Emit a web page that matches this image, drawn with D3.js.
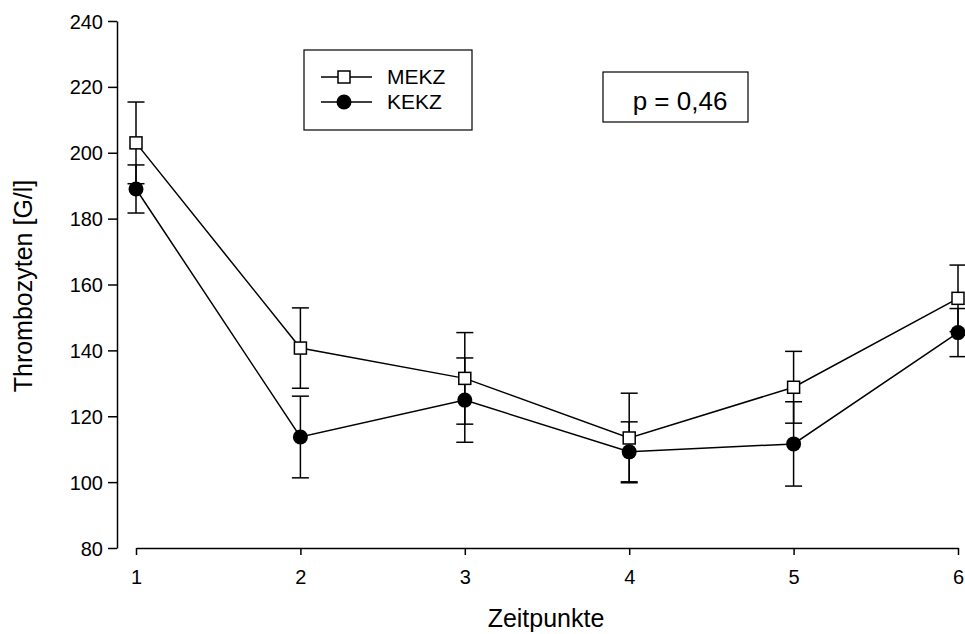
<!DOCTYPE html>
<html>
<head>
<meta charset="utf-8">
<script src="https://cdn.jsdelivr.net/npm/d3@7/dist/d3.min.js"></script>
<style>
  body { margin: 0; background: #fff; }
  text { font-family: "Liberation Sans", Arial, sans-serif; fill: #000; }
</style>
</head>
<body>
<script>
// Zeitpunkte and group means / errors
var timepoints = [1, 2, 3, 4, 5, 6];
var mekzMean = [203, 140.7, 131.5, 113.4, 128.8, 155.8];
var mekzErr  = [12.4, 12.2, 13.9, 13.6, 10.9, 10.1];
var kekzMean = [189, 113.7, 124.9, 109.2, 111.6, 145.4];
var kekzErr  = [7.3, 12.4, 12.8, 9.1, 12.8, 7.3];
var yTicks = [80, 100, 120, 140, 160, 180, 200, 220, 240];
var pText = "p = 0,46";

var W = 965, H = 634;
var svg = d3.select("body").append("svg").attr("width", W).attr("height", H);

var x = d3.scaleLinear().domain([1, 6]).range([136, 958]);
var y = d3.scaleLinear().domain([80, 240]).range([548, 21]);

// y axis
var yAxis = d3.axisLeft(y).tickValues(yTicks).tickSize(9).tickPadding(5).tickSizeOuter(0);
var gy = svg.append("g").attr("transform", "translate(117,0)").call(yAxis);
gy.select(".domain").attr("stroke-width", 1.5);
gy.selectAll(".tick line").attr("stroke-width", 1.5);
gy.selectAll("text").style("font-size", "20px").attr("dy", "0.35em");

// x axis (detached, starts at 1 and ends at 6)
var xAxis = d3.axisBottom(x).tickValues(timepoints).tickFormat(d3.format("d"))
  .tickSize(7).tickPadding(15).tickSizeOuter(0);
var gx = svg.append("g").attr("transform", "translate(0,548)").call(xAxis);
gx.select(".domain").attr("stroke-width", 1.5);
gx.selectAll(".tick line").attr("stroke-width", 1.5);
gx.selectAll("text").style("font-size", "20px");

// axis titles
svg.append("text").attr("x", 546).attr("y", 627).attr("text-anchor", "middle")
  .style("font-size", "25px").text("Zeitpunkte");
svg.append("text").attr("transform", "translate(32,286) rotate(-90)").attr("text-anchor", "middle")
  .style("font-size", "25px").text("Thrombozyten [G/l]");

function series(mean, err) {
  return timepoints.map(function (t, i) { return { t: t, m: mean[i], e: err[i] }; });
}
var mekz = series(mekzMean, mekzErr);
var kekz = series(kekzMean, kekzErr);

var line = d3.line().x(function (d) { return x(d.t); }).y(function (d) { return y(d.m); });

[mekz, kekz].forEach(function (s) {
  svg.append("path").datum(s).attr("d", line)
    .attr("fill", "none").attr("stroke", "#000").attr("stroke-width", 1.5);
});

// error bars
[mekz, kekz].forEach(function (s) {
  var g = svg.append("g").attr("stroke", "#000").attr("stroke-width", 1.5);
  s.forEach(function (d) {
    var cx = x(d.t);
    g.append("line").attr("x1", cx).attr("x2", cx).attr("y1", y(d.m - d.e)).attr("y2", y(d.m + d.e));
    g.append("line").attr("x1", cx - 8.5).attr("x2", cx + 8.5).attr("y1", y(d.m + d.e)).attr("y2", y(d.m + d.e));
    g.append("line").attr("x1", cx - 8.5).attr("x2", cx + 8.5).attr("y1", y(d.m - d.e)).attr("y2", y(d.m - d.e));
  });
});

// markers
svg.append("g").selectAll("rect").data(mekz).enter().append("rect")
  .attr("x", function (d) { return x(d.t) - 6; })
  .attr("y", function (d) { return y(d.m) - 6; })
  .attr("width", 12).attr("height", 12)
  .attr("fill", "#fff").attr("stroke", "#000").attr("stroke-width", 1.5);
svg.append("g").selectAll("circle").data(kekz).enter().append("circle")
  .attr("cx", function (d) { return x(d.t); })
  .attr("cy", function (d) { return y(d.m); })
  .attr("r", 7.5).attr("fill", "#000");

// legend
var lg = svg.append("g");
lg.append("rect").attr("x", 304).attr("y", 50).attr("width", 168).attr("height", 80)
  .attr("fill", "#fff").attr("stroke", "#000").attr("stroke-width", 1.2);
lg.append("line").attr("x1", 321).attr("x2", 372).attr("y1", 77).attr("y2", 77).attr("stroke", "#000").attr("stroke-width", 1.5);
lg.append("rect").attr("x", 338).attr("y", 71).attr("width", 12).attr("height", 12)
  .attr("fill", "#fff").attr("stroke", "#000").attr("stroke-width", 1.5);
lg.append("text").attr("x", 387).attr("y", 84).style("font-size", "21px").text("MEKZ");
lg.append("line").attr("x1", 321).attr("x2", 372).attr("y1", 102).attr("y2", 102).attr("stroke", "#000").attr("stroke-width", 1.5);
lg.append("circle").attr("cx", 344).attr("cy", 102).attr("r", 7.5).attr("fill", "#000");
lg.append("text").attr("x", 387).attr("y", 109).style("font-size", "21px").text("KEKZ");

// p value box
svg.append("rect").attr("x", 603).attr("y", 72).attr("width", 145).attr("height", 50)
  .attr("fill", "#fff").attr("stroke", "#000").attr("stroke-width", 1.2);
svg.append("text").attr("x", 680).attr("y", 110).attr("text-anchor", "middle")
  .style("font-size", "26px").text(pText);
</script>
</body>
</html>
